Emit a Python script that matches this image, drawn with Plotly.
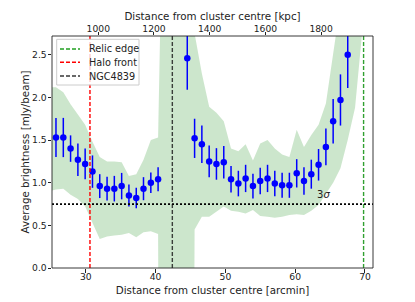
import plotly.graph_objects as go

# ---- data ----
x_arcmin = [25.73, 26.78, 27.82, 28.87, 29.91, 30.96, 32.00, 33.05, 34.09, 35.14,
            36.18, 37.23, 38.27, 39.32, 40.36, 41.41, 42.45, 43.50, 44.54, 45.59,
            46.63, 47.68, 48.72, 49.77, 50.81, 51.86, 52.90, 53.95, 54.99, 56.04,
            57.08, 58.13, 59.17, 60.22, 61.26, 62.31, 63.35, 64.40, 65.44, 66.49, 67.53]
brightness = [1.53, 1.53, 1.40, 1.27, 1.22, 1.13, 0.96, 0.93, 0.93, 0.96,
              0.85, 0.82, 0.93, 1.00, 1.04, None, None, None, 2.46, 1.52,
              1.45, 1.25, 1.22, 1.24, 1.04, 0.99, 1.05, 0.96, 1.02, 1.05,
              0.99, 0.97, 0.97, 1.11, 1.02, 1.10, 1.21, 1.42, 1.72, 1.97, 2.50]
brightness_err = [0.23, 0.23, 0.155, 0.19, 0.18, 0.19, 0.14, 0.14, 0.15, 0.155,
                  0.13, 0.12, 0.135, 0.12, 0.14, 0, 0, 0, 0.37, 0.23,
                  0.22, 0.185, 0.185, 0.19, 0.155, 0.15, 0.16, 0.146, 0.156, 0.16,
                  0.15, 0.147, 0.147, 0.166, 0.16, 0.17, 0.185, 0.215, 0.26, 0.30, 0.39]

band_x = [24.69] + x_arcmin + [68.58, 69.62]
band_upper = [2.12, 2.12, 2.06, 1.92, 1.80, 1.68, 1.48, 1.30, 1.25, 1.25, 1.24,
              1.08, 1.10, 1.27, 1.50, 1.53, 6.0, 6.0, 6.0, 6.0, 2.75,
              2.28, 1.89, 1.82, 1.72, 1.40, 1.37, 1.45, 1.26, 1.46, 1.50,
              1.40, 1.33, 1.30, 1.62, 1.42, 1.56, 1.68, 1.93, 2.53, 3.1, 4.5, 6.0, 6.0]
band_lower = [0.90, 0.92, 0.93, 0.86, 0.81, 0.72, 0.52, 0.34, 0.37, 0.38, 0.39,
              0.41, 0.36, 0.42, 0.43, 0.40, -20, -20, -20, -20, 0.45,
              0.60, 0.60, 0.66, 0.72, 0.67, 0.66, 0.64, 0.68, 0.61, 0.60,
              0.59, 0.60, 0.62, 0.63, 0.62, 0.67, 0.74, 0.87, 1.00, 1.17, 1.50, 1.88, 2.78]

relic_edge = 69.8
halo_front = 30.6
ngc4839 = 42.4
three_sigma = 0.75

x_ticks = [30, 40, 50, 60, 70]
kpc_ticks = [1000, 1200, 1400, 1600, 1800]
y_ticks = [0.0, 0.5, 1.0, 1.5, 2.0, 2.5]

x_range = [25.16, 71.15]
y_range = [0.0, 2.72]
# linear arcmin -> kpc relation
kpc_per_arcmin = 25.06
kpc_at_30 = 955.1
kpc_range = [kpc_at_30 + kpc_per_arcmin * (v - 30) for v in x_range]

# ---- layout geometry ----
W, H = 415, 302
L, R, T, B = 52, 42, 36, 34
PW, PH = W - L - R, H - T - B
FONT = "DejaVu Sans"
TXT = "#222222"
TICK_FS = 9.2
TITLE_FS = 10.3


def px(xp):
    return (xp - L) / PW


def py(yp):
    return (H - B - yp) / PH


fig = go.Figure()

# shaded band
fig.add_trace(go.Scatter(
    x=band_x + band_x[::-1], y=band_upper + band_lower[::-1],
    fill="toself", fillcolor="rgba(0,128,0,0.2)", mode="lines",
    line=dict(width=0, color="rgba(0,0,0,0)"), hoverinfo="skip", showlegend=False))

# data points
fig.add_trace(go.Scatter(
    x=x_arcmin, y=brightness, mode="markers",
    marker=dict(color="blue", size=6.5),
    error_y=dict(type="data", array=brightness_err, color="blue", thickness=1.5, width=0),
    showlegend=False, cliponaxis=True))

# invisible trace to activate top axis
fig.add_trace(go.Scatter(x=kpc_range, y=[None, None], xaxis="x2", yaxis="y",
                         mode="markers", showlegend=False, hoverinfo="skip"))

shapes = []
# reference lines
shapes.append(dict(type="line", xref="x", yref="paper", x0=halo_front, x1=halo_front, y0=0, y1=1,
                   line=dict(color="red", width=1.4, dash="4px,2px")))
shapes.append(dict(type="line", xref="x", yref="paper", x0=ngc4839, x1=ngc4839, y0=0, y1=1,
                   line=dict(color="rgba(20,20,20,0.8)", width=1.4, dash="4px,2px")))
shapes.append(dict(type="line", xref="x", yref="paper", x0=relic_edge, x1=relic_edge, y0=0, y1=1,
                   line=dict(color="#30a030", width=1.4, dash="4px,2px")))
shapes.append(dict(type="line", xref="paper", yref="y", x0=0, x1=1, y0=three_sigma, y1=three_sigma,
                   line=dict(color="black", width=1.8, dash="2px,2px")))
# frame
shapes.append(dict(type="rect", xref="paper", yref="paper", x0=0, x1=1, y0=0, y1=1,
                   line=dict(color="#222222", width=0.9), layer="above"))

# manual legend
shapes.append(dict(type="rect", xref="paper", yref="paper",
                   x0=px(56.7), x1=px(139), y0=py(85), y1=py(39.3),
                   fillcolor="rgba(255,255,255,0.8)", line=dict(color="#cccccc", width=1),
                   layer="above"))
legend_items = [("Relic edge", "#22a022", 49.0), ("Halo front", "red", 62.3),
                ("NGC4839", "rgba(20,20,20,0.85)", 76.0)]
annotations = []
for label, col, rowy in legend_items:
    shapes.append(dict(type="line", xref="paper", yref="paper", x0=px(60), x1=px(80),
                       y0=py(rowy), y1=py(rowy), line=dict(color=col, width=1.4, dash="4px,2px"),
                       layer="above"))
    annotations.append(dict(xref="paper", yref="paper", x=px(86.5), y=py(rowy), text=label,
                            showarrow=False, xanchor="left", yanchor="middle",
                            font=dict(family=FONT, size=9.7, color=TXT)))

annotations.append(dict(xref="x", yref="y", x=64.0, y=0.86, text="3<i>σ</i>", showarrow=False,
                        font=dict(family=FONT, size=10, color=TXT)))

fig.update_layout(
    width=W, height=H, margin=dict(l=L, r=R, t=T, b=B, pad=0, autoexpand=False),
    paper_bgcolor="white", plot_bgcolor="white",
    font=dict(family=FONT, size=TICK_FS, color=TXT),
    shapes=shapes, annotations=annotations, showlegend=False,
    xaxis=dict(range=x_range, tickvals=x_ticks, ticks="outside", ticklen=3.5, tickwidth=0.8,
               tickcolor="#222", showgrid=False, zeroline=False, showline=False,
               automargin=False, tickfont=dict(size=TICK_FS), ticklabelstandoff=-4,
               title=dict(text="Distance from cluster centre [arcmin]", standoff=6,
                          font=dict(size=TITLE_FS))),
    xaxis2=dict(range=kpc_range, tickvals=kpc_ticks, overlaying="x", side="top", anchor="y",
                ticks="outside", ticklen=3.5, tickwidth=0.8, tickcolor="#222",
                showgrid=False, zeroline=False, showline=False, tickfont=dict(size=TICK_FS),
                automargin=False, ticklabelstandoff=-4,
                title=dict(text="Distance from cluster centre [kpc]", standoff=0,
                           font=dict(size=TITLE_FS))),
    yaxis=dict(range=y_range, tickvals=y_ticks, tickformat=".1f", ticks="outside", ticklen=3.5,
               tickwidth=0.8, tickcolor="#222", showgrid=False, zeroline=False, showline=False,
               automargin=False, tickfont=dict(size=TICK_FS), ticklabelstandoff=-1,
               title=dict(text="Average brightness [mJy/beam]", standoff=0,
                          font=dict(size=TITLE_FS))),
)

fig.write_html("out.html", config={"displayModeBar": False},
               post_script="document.body.style.margin='0px';")
